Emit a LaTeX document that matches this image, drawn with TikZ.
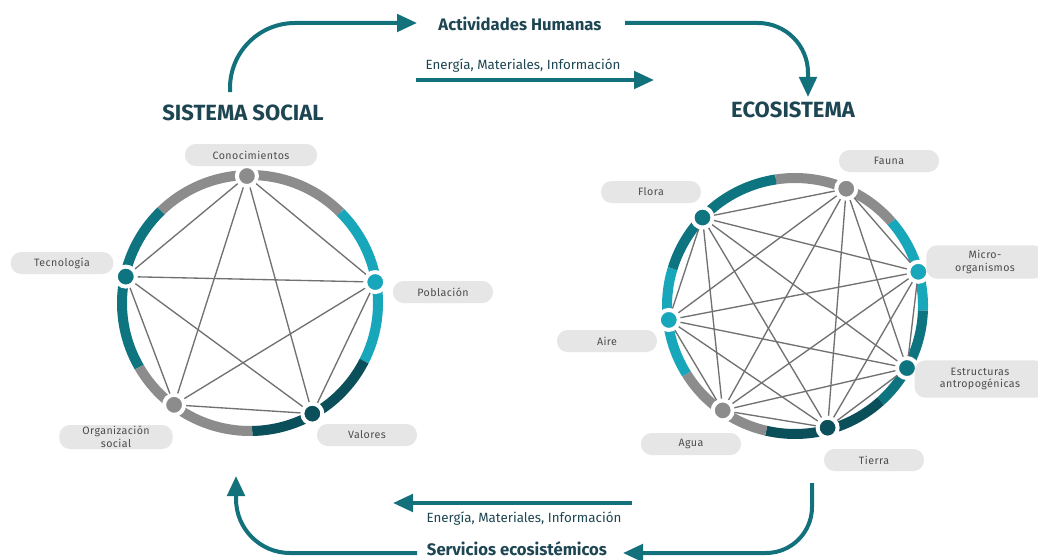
\documentclass[tikz,border=0pt]{standalone}
\usepackage{fontspec}
\setmainfont{Fira Sans}
\usetikzlibrary{arrows.meta}
\definecolor{cgray}{HTML}{8C8C8C}
\definecolor{ccyan}{HTML}{17A6BA}
\definecolor{cteal}{HTML}{0E7480}
\definecolor{cdark}{HTML}{0A4F59}
\definecolor{carrow}{HTML}{13717C}
\definecolor{ctitle}{HTML}{1E4652}
\definecolor{cpill}{HTML}{E6E6E6}
\definecolor{ctext}{HTML}{4D4D4D}
\definecolor{cedge}{HTML}{717171}
\pgfdeclarelayer{bg}
\pgfdeclarelayer{paper}
\pgfsetlayers{paper,bg,main}
\begin{document}
\begin{tikzpicture}[x=0.75pt,y=0.75pt,
  ring/.style={line width=7.5pt},
  dotn/.style={circle,fill=#1,draw=white,line width=3pt,minimum size=15pt,inner sep=0pt},
  edgeline/.style={draw=cedge,line width=1pt},
  pill/.style={fill=cpill,rounded corners=8pt,minimum width=75pt,minimum height=16.5pt,
    font=\fontsize{8}{9.5}\selectfont\addfontfeature{LetterSpace=4},text=ctext,align=center,inner sep=1pt},
  title/.style={font=\fontsize{16.5}{18}\selectfont\bfseries,text=ctitle},
  flowlabel/.style={font=\fontsize{12.5}{14}\selectfont\bfseries,text=ctitle},
  smalllabel/.style={font=\fontsize{10}{12}\selectfont,text=ctitle},
  flow/.style={draw=carrow,line width=3pt,-{Triangle[length=15pt,width=13pt]}}
]
\begin{pgfonlayer}{paper}
\fill[white] (0,0) rectangle (1038,-560);
\end{pgfonlayer}
\useasboundingbox (0,0) rectangle (1038,-560);

% titles and flow labels
\node[title] (sis) at (243,-113) {SISTEMA SOCIAL};
\node[title] (eco) at (793,-110) {ECOSISTEMA};
\node[flowlabel] (act) at (520,-24) {Actividades Humanas};
\node[smalllabel] (emi1) at (523,-66) {Energía, Materiales, Información};
\node[smalllabel] (emi2) at (524,-519) {Energía, Materiales, Información};
\node[flowlabel,inner sep=1pt] (ser) at (517,-549) {Servicios ecosistémicos};

% flow arrows
\coordinate (a1s) at (230,-92);
\coordinate (a1e) at (417,-23);
\draw[flow] (a1s) -- (230,-88) arc[start angle=180,end angle=90,radius=65] -- (a1e);
\coordinate (a2s) at (625,-23);
\coordinate (a2e) at (808,-97);
\draw[flow] (a2s) -- (758,-23) arc[start angle=90,end angle=0,radius=50] -- (a2e);
\coordinate (m1s) at (416,-80);
\coordinate (m1e) at (654,-80);
\draw[flow] (m1s) -- (m1e);
\coordinate (m2s) at (632,-503);
\coordinate (m2e) at (393,-503);
\draw[flow] (m2s) -- (m2e);
\coordinate (b1s) at (812,-483);
\coordinate (b1e) at (623,-553);
\draw[flow] (b1s) -- (812,-507) arc[start angle=0,end angle=-90,radius=46] -- (b1e);
\coordinate (b2s) at (417,-553);
\coordinate (b2e) at (236,-476);
\draw[flow] (b2s) -- (290,-553) arc[start angle=270,end angle=180,radius=54] -- (b2e);

% ---------- left circle ----------
\begin{scope}[shift={(250,-303)}]
  \begin{pgfonlayer}{bg}
    \draw[ring,cgray] (134:128) arc[start angle=134,end angle=45,radius=128];
    \draw[ring,ccyan] (45:128) arc[start angle=45,end angle=-27,radius=128];
    \draw[ring,cdark] (-27:128) arc[start angle=-27,end angle=-89,radius=128];
    \draw[ring,cgray] (-89:128) arc[start angle=-89,end angle=-150,radius=128];
    \draw[ring,cteal] (-150:128) arc[start angle=-150,end angle=-226,radius=128];
  \end{pgfonlayer}
  \node[dotn=cgray] (con) at (91.4:127) {};
  \node[dotn=ccyan] (pob) at (9.5:127) {};
  \node[dotn=cdark] (val) at (-60.6:127) {};
  \node[dotn=cgray] (org) at (-126.7:127) {};
  \node[dotn=cteal] (tec) at (168:127) {};
  \begin{pgfonlayer}{bg}
    \foreach \a/\b in {con/pob,con/val,con/org,con/tec,pob/val,pob/org,pob/tec,val/org,val/tec,org/tec}
      \draw[edgeline] (\a.center) -- (\b.center);
  \end{pgfonlayer}
\end{scope}

\node[pill,minimum width=99pt] (lcon) at (251,-155) {Conocimientos};
\node[pill] (lpob) at (443,-292) {Población};
\node[pill] (lval) at (367,-435) {Valores};
\node[pill,minimum width=85pt,minimum height=18pt] (lorg) at (116,-437) {Organización\\social};
\node[pill,minimum width=77pt] (ltec) at (62,-263) {Tecnología};

% ---------- right circle ----------
\begin{scope}[shift={(795,-306)}]
  \begin{pgfonlayer}{bg}
    \draw[ring,cgray] (98.6:128) arc[start angle=98.6,end angle=41,radius=128];
    \draw[ring,ccyan] (41:128) arc[start angle=41,end angle=-2,radius=128];
    \draw[ring,cteal] (-2:128) arc[start angle=-2,end angle=-48,radius=128];
    \draw[ring,cdark] (-48:128) arc[start angle=-48,end angle=-103,radius=128];
    \draw[ring,cgray] (-103:128) arc[start angle=-103,end angle=-148,radius=128];
    \draw[ring,ccyan] (-148:128) arc[start angle=-148,end angle=-197,radius=128];
    \draw[ring,cteal] (163:128) arc[start angle=163,end angle=98.6,radius=128];
  \end{pgfonlayer}
  \node[dotn=cgray] (fau) at (66.4:128) {};
  \node[dotn=ccyan] (mic) at (15.5:128) {};
  \node[dotn=cteal] (est) at (-29:128) {};
  \node[dotn=cdark] (tie) at (-75:126) {};
  \node[dotn=cgray] (agu) at (-124.7:127) {};
  \node[dotn=ccyan] (air) at (-173.7:127) {};
  \node[dotn=cteal] (flo) at (136.3:128) {};
  \begin{pgfonlayer}{bg}
    \foreach \a [count=\i] in {fau,mic,est,tie,agu,air,flo}{
      \foreach \b [count=\j] in {fau,mic,est,tie,agu,air,flo}{
        \ifnum\i<\j \draw[edgeline] (\a.center) -- (\b.center); \fi
      }
    }
  \end{pgfonlayer}
\end{scope}

\node[pill] (lfau) at (889,-161) {Fauna};
\node[pill] (lflo) at (651,-192) {Flora};
\node[pill,minimum width=88pt,minimum height=25pt] (lmic) at (985,-262) {Micro-\\organismos};
\node[pill,minimum width=98pt,minimum height=28pt] (lest) at (980,-379) {Estructuras\\antropogénicas};
\node[pill] (lair) at (607,-341) {Aire};
\node[pill] (lagu) at (691,-444) {Agua};
\node[pill] (ltie) at (874,-460) {Tierra};
\end{tikzpicture}
\end{document}
